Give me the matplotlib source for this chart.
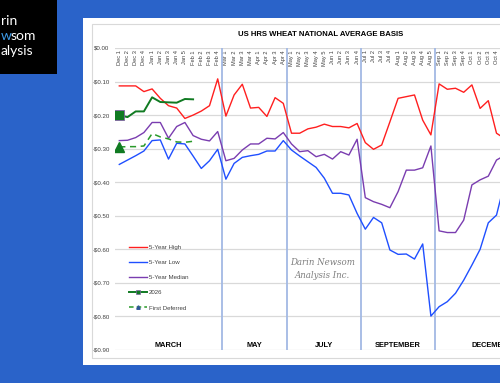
import numpy as np
import matplotlib
matplotlib.use('Agg')
import matplotlib.pyplot as plt
from matplotlib.lines import Line2D
from matplotlib.patches import Rectangle

plt.rcParams['font.family'] = ['Liberation Sans Narrow', 'Liberation Sans', 'DejaVu Sans']

# week categories (Dec of prior year through the marketing year)
months = ['Dec', 'Jan', 'Feb', 'Mar', 'Apr', 'May', 'Jun', 'Jul', 'Aug', 'Sep', 'Oct', 'Nov']
weeks = [4, 5, 4, 4, 4, 5, 4, 4, 5, 4, 4, 5]
cats = [m + ' ' + str(w) for m, n in zip(months, weeks) for w in range(1, n + 1)]

high = [-0.113, -0.113, -0.113, -0.130, -0.122, -0.150, -0.172, -0.179, -0.210, -0.200, -0.188, -0.172, -0.092,
        -0.203, -0.140, -0.108, -0.179, -0.177, -0.204, -0.148, -0.165,
        -0.254, -0.254, -0.241, -0.236, -0.227, -0.234, -0.234, -0.238, -0.225,
        -0.282, -0.302, -0.289, -0.220, -0.150, -0.145, -0.140, -0.215, -0.259,
        -0.107, -0.123, -0.120, -0.132, -0.110, -0.180, -0.157, -0.254, -0.270]
low = [-0.347, -0.334, -0.321, -0.307, -0.276, -0.274, -0.331, -0.284, -0.286, -0.322, -0.359, -0.336, -0.302,
       -0.391, -0.344, -0.326, -0.321, -0.317, -0.307, -0.307, -0.276,
       -0.304, -0.322, -0.339, -0.356, -0.388, -0.433, -0.433, -0.438, -0.493,
       -0.540, -0.505, -0.521, -0.602, -0.615, -0.614, -0.629, -0.584, -0.799,
       -0.771, -0.756, -0.731, -0.692, -0.647, -0.600, -0.521, -0.498, -0.400]
median = [-0.276, -0.275, -0.267, -0.252, -0.222, -0.222, -0.269, -0.234, -0.222, -0.261, -0.272, -0.277, -0.249,
          -0.336, -0.329, -0.304, -0.286, -0.286, -0.269, -0.271, -0.252,
          -0.286, -0.309, -0.306, -0.324, -0.317, -0.331, -0.309, -0.319, -0.272,
          -0.446, -0.458, -0.466, -0.476, -0.428, -0.364, -0.364, -0.357, -0.292,
          -0.545, -0.550, -0.550, -0.513, -0.408, -0.393, -0.382, -0.334, -0.320]
y2026 = [-0.200, -0.206, -0.189, -0.189, -0.147, -0.161, -0.162, -0.163, -0.152, -0.153]
deferred = [-0.295, -0.294, -0.294, -0.292, -0.255, -0.265, -0.271, -0.280, -0.281, -0.278]

sections = ['MARCH', 'MAY', 'JULY', 'SEPTEMBER', 'DECEMBER']
sec_start = [0, 13, 21, 30, 39]
sec_end = [12, 20, 29, 38, 52]

red = '#ff1f1f'
blue = '#1f4fff'
purple = '#7a3db0'
dgreen = '#107a22'
lgreen = '#2a9a2a'

fig = plt.figure(figsize=(5, 3.83), dpi=100)
fig.patch.set_facecolor('#2a63c9')

# white chart panel and inner border
fig.add_artist(Rectangle((0.166, 0.047), 0.9, 0.906, transform=fig.transFigure,
                         facecolor='white', edgecolor='none', zorder=0))
fig.add_artist(Rectangle((0.184, 0.065), 0.9, 0.872, transform=fig.transFigure,
                         facecolor='none', edgecolor='#d9d9d9', lw=0.8, zorder=1))
# logo box
fig.add_artist(Rectangle((0, 0.807), 0.114, 0.2, transform=fig.transFigure,
                         facecolor='black', edgecolor='none', zorder=1))
fig.text(0.001, 1 - 21 / 383, 'rin', color='white', fontsize=10, family='Lato', va='center', ha='left')
fig.text(0.001, 1 - 36 / 383, 'w', color='#3d9be9', fontsize=10, family='Lato', va='center', ha='left')
fig.text(0.021, 1 - 36 / 383, 'som', color='white', fontsize=10, family='Lato', va='center', ha='left')
fig.text(0.001, 1 - 51 / 383, 'alysis', color='white', fontsize=10, family='Lato', va='center', ha='left')

fig.text(321 / 500, 1 - 35 / 383, 'US HRS WHEAT NATIONAL AVERAGE BASIS', fontsize=5.6,
         fontweight='bold', ha='center', va='center', color='black')

ax = fig.add_axes([115.2 / 500, 0.0862, 0.8528, 0.7885])
ax.set_facecolor('none')
x = np.arange(len(cats))

ax.set_xlim(-0.5, 51.5)
ax.set_ylim(-0.9, 0)
yt = np.arange(0, -0.91, -0.1)
ax.set_yticks(yt)
ax.set_yticklabels([('-$%.2f' % -v) if v < -0.001 else '$0.00' for v in yt], fontsize=4.4, color='#404040')
ax.grid(axis='y', color='#d9d9d9', lw=0.9)
ax.set_axisbelow(True)
for s in ['top', 'right', 'left']:
    ax.spines[s].set_visible(False)
ax.spines['bottom'].set_position(('data', 0))
ax.spines['bottom'].set_visible(False)
ax.set_xticks(x)
ax.set_xticklabels(cats, rotation=90, fontsize=4.1, color='#404040')
ax.tick_params(axis='both', length=0)
ax.tick_params(axis='x', pad=1.5)
ax.tick_params(axis='y', pad=4)

for s0, s1, name in zip(sec_start, sec_end, sections):
    if s0 > 0:
        ax.axvline(s0 - 0.5, color='#a3b9e4', lw=1.3, zorder=1)
    ax.text((s0 + s1) / 2, -0.886, name, fontsize=5.3, fontweight='bold', ha='center', va='center')

ax.text(24.8, -0.638, 'Darin Newsom', fontsize=6.2, style='italic', family='DejaVu Serif',
        color='#7f7f7f', ha='center', va='center')
ax.text(24.8, -0.677, 'Analysis Inc.', fontsize=6.2, style='italic', family='DejaVu Serif',
        color='#7f7f7f', ha='center', va='center')

ax.plot(x[:len(high)], high, color=red, lw=1.0, zorder=3)
ax.plot(x[:len(low)], low, color=blue, lw=1.0, zorder=3)
ax.plot(x[:len(median)], median, color=purple, lw=1.0, zorder=3)
ax.plot(x[:len(y2026)], y2026, color=dgreen, lw=1.4, marker='s', markevery=[0], ms=6.5,
        mfc=dgreen, mec='#8064a2', mew=0.6, zorder=4)
ax.plot(x[:len(deferred)], deferred, color=lgreen, lw=1.1, ls=(0, (4, 3)), zorder=4)
ax.plot(x[:1], deferred[:1], ls='none', marker='^', ms=7, color=dgreen, zorder=5)

handles = [Line2D([], [], color=red, lw=1.0),
           Line2D([], [], color=blue, lw=1.0),
           Line2D([], [], color=purple, lw=1.0),
           Line2D([], [], color=dgreen, lw=1.4, marker='s', ms=2.5, mfc=dgreen, mec='#8064a2', mew=0.5),
           Line2D([], [], color=lgreen, lw=1.1, ls=(0, (3, 2)), marker='^', ms=2.5, mfc='#2f5597', mec='#2f5597')]
labels = ['5-Year High', '5-Year Low', '5-Year Median', '2026', 'First Deferred']
leg = ax.legend(handles, labels, loc='upper left', bbox_to_anchor=(126 / 500, 1 - 242 / 383),
                bbox_transform=fig.transFigure, frameon=False, fontsize=4.4, labelspacing=1.6,
                handlelength=3.0, handletextpad=0.2, borderpad=0)
for t in leg.get_texts():
    t.set_color('#404040')

fig.savefig('out.png', dpi=100, facecolor=fig.get_facecolor())
